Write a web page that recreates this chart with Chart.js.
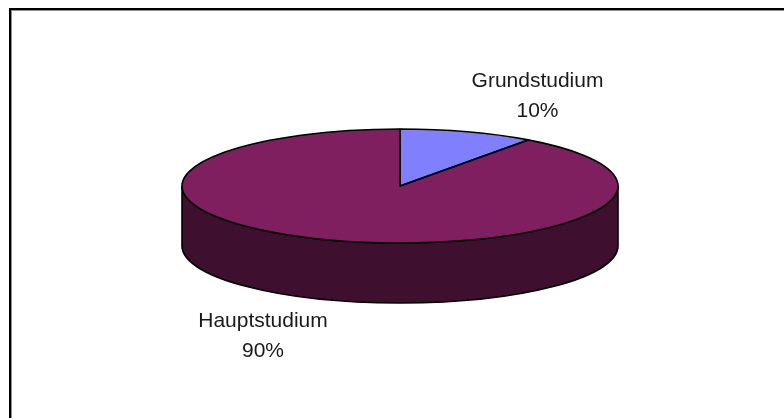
<!DOCTYPE html>
<html>
<head>
<meta charset="utf-8">
<style>html,body{margin:0;padding:0;background:#fff;overflow:hidden}canvas{display:block}</style>
<script src="https://cdn.jsdelivr.net/npm/chart.js@4"></script>
</head>
<body>
<canvas id="c" width="784" height="418"></canvas>
<script>
const categories = ["Grundstudium", "Hauptstudium"];
const values = [10, 90];
const topColors = ["#8080ff", "#7f1f5f"];
const sideColors = ["#40407f", "#3f0f2f"];

const PIE = {cx: 400, cy: 186, rx: 218, ry: 57, depth: 60};
const LABEL_POS = [{x: 537.5, y1: 87, y2: 117}, {x: 263, y1: 327, y2: 357}];

function pieTransform(ctx, el) {
  ctx.translate(PIE.cx, PIE.cy);
  ctx.scale(PIE.rx / el.outerRadius, PIE.ry / el.outerRadius);
  ctx.translate(-el.x, -el.y);
}

const pie3d = {
  id: "pie3d",
  beforeDraw(chart) {
    const ctx = chart.ctx;
    ctx.save();
    // frame
    ctx.fillStyle = "#000";
    ctx.fillRect(9, 8, 775, 2);
    ctx.fillRect(9, 8, 2, 410);
    ctx.fillStyle = "#8c8c8c";
    ctx.fillRect(11, 10, 773, 1);
    ctx.fillRect(11, 10, 1, 408);
    ctx.restore();
  },
  beforeDatasetsDraw(chart) {
    const ctx = chart.ctx;
    const arcs = chart.getDatasetMeta(0).data;
    const el = arcs[0];
    // side wall: front half of the rim extruded downward, drawn through the arc elements' geometry
    ctx.save();
    const {rx, ry, cx, cy, depth} = PIE;
    arcs.forEach((a, i) => {
      const s = Math.max(a.startAngle, 0), e = Math.min(a.endAngle, Math.PI);
      if (e <= s) return;
      ctx.beginPath();
      ctx.ellipse(cx, cy, rx, ry, 0, s, e);
      ctx.ellipse(cx, cy + depth, rx, ry, 0, e, s, true);
      ctx.closePath();
      ctx.fillStyle = sideColors[i];
      ctx.fill();
      ctx.lineWidth = 1.6;
      ctx.strokeStyle = "#000";
      ctx.stroke();
    });
    ctx.restore();
    // squash the top face
    ctx.save();
    pieTransform(ctx, el);
  },
  afterDatasetsDraw(chart) {
    const ctx = chart.ctx;
    ctx.restore();
    ctx.save();
    // outlines of the top face keep a constant stroke width
    const arcs = chart.getDatasetMeta(0).data;
    const {rx, ry, cx, cy} = PIE;
    ctx.lineWidth = 1.6;
    ctx.strokeStyle = "#000";
    ctx.lineJoin = "round";
    arcs.forEach(a => {
      ctx.beginPath();
      ctx.moveTo(cx, cy);
      ctx.ellipse(cx, cy, rx, ry, 0, a.startAngle, a.endAngle);
      ctx.closePath();
      ctx.stroke();
    });
    // labels
    ctx.fillStyle = "#1a1a1a";
    ctx.font = '21px "Liberation Sans", Arial, sans-serif';
    ctx.textAlign = "center";
    ctx.textBaseline = "alphabetic";
    const total = values.reduce((p, v) => p + v, 0);
    categories.forEach((name, i) => {
      ctx.fillText(name, LABEL_POS[i].x, LABEL_POS[i].y1);
      ctx.fillText(Math.round(values[i] / total * 100) + "%", LABEL_POS[i].x, LABEL_POS[i].y2);
    });
    ctx.restore();
  }
};

new Chart(document.getElementById("c"), {
  type: "pie",
  data: {
    labels: categories,
    datasets: [{data: values, backgroundColor: topColors, borderWidth: 0}]
  },
  options: {
    responsive: false,
    animation: false,
    layout: {padding: 10},
    plugins: {legend: {display: false}, tooltip: {enabled: false}}
  },
  plugins: [pie3d]
});
</script>
</body>
</html>
